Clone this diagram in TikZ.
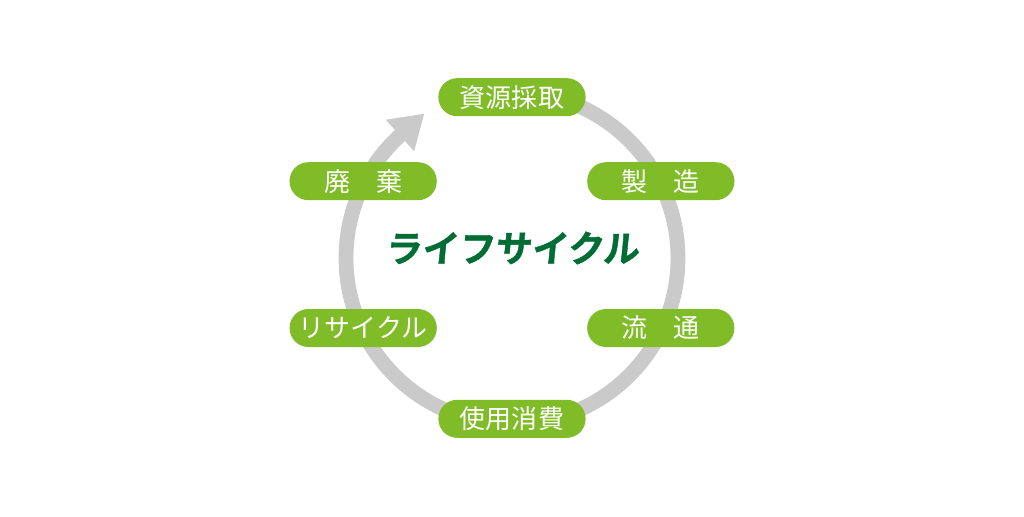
\documentclass[tikz,border=0pt]{standalone}
\usepackage{fontspec}
\usetikzlibrary{arrows.meta}
\newfontfamily\jpfont{Noto Sans CJK JP}
\newfontfamily\jptitle[FakeSlant=0.1,FakeBold=1.2]{Noto Sans CJK JP Bold}
\definecolor{stepgreen}{RGB}{128,188,40}
\definecolor{titlegreen}{RGB}{0,110,52}
\definecolor{ringgray}{RGB}{202,202,202}

\begin{document}
\begin{tikzpicture}
[st/.style={fill=stepgreen,rounded corners=0.47cm,minimum width=3.68cm,minimum height=0.95cm,inner sep=0pt,text=white,font=\jpfont\fontsize{18.5}{22}\selectfont}
,ring/.style={draw=ringgray,line width=0.37cm,arrows={-Triangle[width=1cm,length=0.82cm]}}
,cyclename/.style={text=titlegreen,font=\jptitle\fontsize{26}{30}\selectfont}]
\useasboundingbox[fill=white] (-12.8,-6.45) rectangle (12.8,6.45);
\draw[ring] (90:4.15) arc[start angle=90,end angle=-227,radius=4.15] -- ++(42:0.86);
\node[cyclename] (lc) at (0,0.25) {ライフサイクル};
\node[st] (shigen) at (0,4.02) {資源採取};
\node[st] (seizo) at (3.72,1.92) {製　造};
\node[st] (ryutsu) at (3.72,-1.75) {流　通};
\node[st] (shiyo) at (0,-4.02) {使用消費};
\node[st] (recycle) at (-3.72,-1.75) {リサイクル};
\node[st] (haiki) at (-3.72,1.92) {廃　棄};
\end{tikzpicture}
\end{document}
